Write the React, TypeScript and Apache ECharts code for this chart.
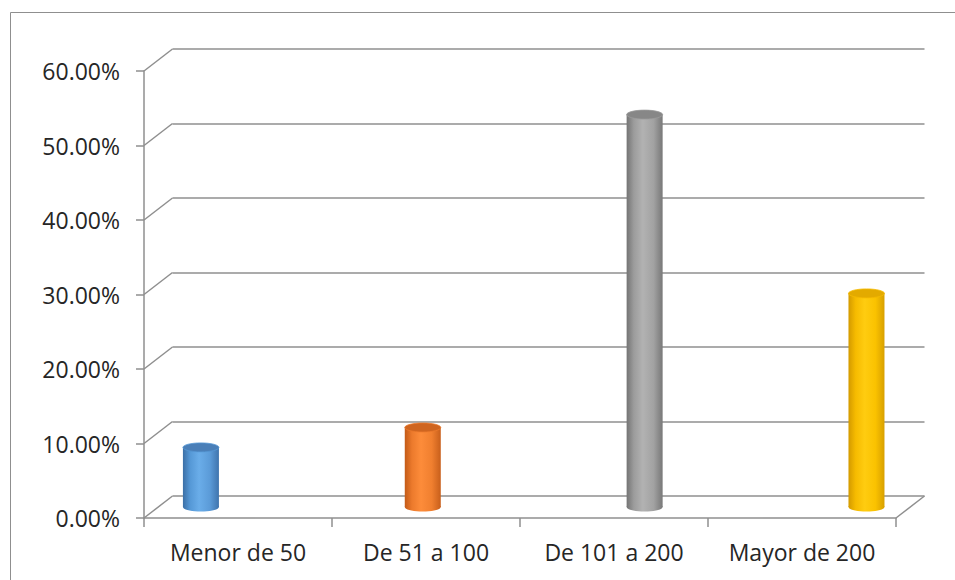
import React, { useEffect, useRef } from 'react';
import * as echarts from 'echarts';

// ---- data ----
const categories = ['Menor de 50', 'De 51 a 100', 'De 101 a 200', 'Mayor de 200'];
const values = [0.08, 0.1067, 0.5267, 0.2867];
const yTicks = [0, 0.1, 0.2, 0.3, 0.4, 0.5, 0.6];
const Y_MIN = 0;
const Y_MAX = 0.6;
const Y_STEP = 0.1;

// ---- styles / layout ----
const W = 955;
const H = 580;
const FRONT = { left: 144, right: 59, top: 71, bottom: 62 };
const DX = 28.5;
const DY = -22;
const LINE = '#8f8f8f';
const TEXT = '#262626';
const FONT = 'Open Sans';
const FONT_SIZE = 23;
const BAR_W = 36;
const ELL_RY = 4.5;
const barStyles = [
  { stops: ['#3b6fa6', '#5598d6', '#6aade9', '#5b9bd8', '#3f74ad'], top: '#4a7fb8' },
  { stops: ['#c35a17', '#ec7a2c', '#fd8c3a', '#f07f2f', '#c85f1b'], top: '#cf6520' },
  { stops: ['#747474', '#9c9c9c', '#b2b2b2', '#a2a2a2', '#787878'], top: '#878787' },
  { stops: ['#d39a00', '#f6bb00', '#ffcc10', '#fac200', '#d8a000'], top: '#e3aa00' },
];

function grad(stops: string[]) {
  return new echarts.graphic.LinearGradient(0, 0, 1, 0, [
    { offset: 0, color: stops[0] },
    { offset: 0.2, color: stops[1] },
    { offset: 0.45, color: stops[2] },
    { offset: 0.75, color: stops[3] },
    { offset: 1, color: stops[4] },
  ]);
}

export default function App() {
  const ref = useRef<HTMLDivElement>(null);
  useEffect(() => {
    if (!ref.current) return;
    const chart = echarts.init(ref.current, undefined, { renderer: 'svg' });
    const back = {
      left: FRONT.left + DX,
      right: FRONT.right - DX,
      top: FRONT.top + DY,
      bottom: FRONT.bottom - DY,
    };
    // bars sit mid-depth, on their own wider band
    const barsGrid = { left: 90, width: 887.4, top: FRONT.top + DY / 2, bottom: FRONT.bottom - DY / 2 };

    const option: any = {
      animation: false,
      backgroundColor: '#ffffff',
      textStyle: { fontFamily: FONT },
      graphic: [
        {
          type: 'rect',
          shape: { x: 10.5, y: 12.5, width: 2000, height: 2000 },
          style: { fill: 'none', stroke: LINE, lineWidth: 1 },
          silent: true,
          z: -10,
        },
      ],
      grid: [
        { ...FRONT, containLabel: false, outerBoundsMode: 'none' },
        { ...back, containLabel: false, outerBoundsMode: 'none' },
        { ...barsGrid, containLabel: false, outerBoundsMode: 'none' },
      ],
      xAxis: [
        {
          gridIndex: 0,
          type: 'category',
          data: categories,
          boundaryGap: true,
          axisLine: { show: true, lineStyle: { color: LINE, width: 1.5 } },
          axisTick: { show: true, interval: 0, length: 9, lineStyle: { color: LINE, width: 1.5 } },
          axisLabel: {
            color: TEXT,
            fontSize: FONT_SIZE,
            fontFamily: FONT,
            margin: 22,
            interval: 0,
            hideOverlap: false,
          },
          splitLine: { show: false },
        },
        {
          gridIndex: 1,
          type: 'category',
          data: categories,
          axisLine: { show: false },
          axisTick: { show: false },
          axisLabel: { show: false },
          splitLine: { show: false },
        },
        {
          gridIndex: 2,
          type: 'category',
          data: categories,
          show: false,
        },
      ],
      yAxis: [
        {
          gridIndex: 0,
          type: 'value',
          min: Y_MIN,
          max: Y_MAX,
          interval: Y_STEP,
          axisLine: { show: true, lineStyle: { color: LINE, width: 1.5 } },
          axisTick: { show: true, length: 8, lineStyle: { color: LINE, width: 1.5 } },
          axisLabel: {
            color: TEXT,
            fontSize: FONT_SIZE,
            fontFamily: FONT,
            margin: 24,
            formatter: (v: number) => (v * 100).toFixed(2) + '%',
          },
          splitLine: { show: false },
        },
        {
          gridIndex: 1,
          type: 'value',
          min: Y_MIN,
          max: Y_MAX,
          interval: Y_STEP,
          axisLine: { show: false },
          axisTick: { show: false },
          axisLabel: { show: false },
          splitLine: { show: true, lineStyle: { color: LINE, width: 1.5 } },
        },
        {
          gridIndex: 2,
          type: 'value',
          min: Y_MIN,
          max: Y_MAX,
          interval: Y_STEP,
          show: false,
        },
      ],
      series: [
        {
          type: 'custom',
          name: 'frame',
          xAxisIndex: 0,
          yAxisIndex: 0,
          silent: true,
          data: yTicks.map((v) => [0, v]),
          renderItem: (params: any, api: any) => {
            const v = api.value(1);
            const p = api.coord([0, v]);
            const cs = params.coordSys;
            const x0 = cs.x;
            const y = p[1];
            const children: any[] = [
              {
                type: 'line',
                shape: { x1: x0, y1: y, x2: x0 + DX, y2: y + DY },
                style: { stroke: LINE, lineWidth: 1.5 },
              },
            ];
            if (v === Y_MIN) {
              const x1 = cs.x + cs.width;
              children.push({
                type: 'line',
                shape: { x1: x1, y1: y, x2: x1 + DX, y2: y + DY },
                style: { stroke: LINE, lineWidth: 1.5 },
              });
            }
            return { type: 'group', children };
          },
          z: 1,
        },
        {
          type: 'custom',
          name: 'bars',
          xAxisIndex: 2,
          yAxisIndex: 2,
          data: values.map((v, i) => [i, v]),
          renderItem: (params: any, api: any) => {
            const i = api.value(0);
            const v = api.value(1);
            const top = api.coord([i, v]);
            const base = api.coord([i, 0]);
            const st = barStyles[params.dataIndex % barStyles.length];
            const cx = top[0];
            const x = cx - BAR_W / 2;
            return {
              type: 'group',
              children: [
                {
                  type: 'ellipse',
                  shape: { cx, cy: base[1], rx: BAR_W / 2, ry: ELL_RY },
                  style: { fill: grad(st.stops) },
                },
                {
                  type: 'rect',
                  shape: { x, y: top[1], width: BAR_W, height: base[1] - top[1] },
                  style: { fill: grad(st.stops) },
                },
                {
                  type: 'ellipse',
                  shape: { cx, cy: top[1], rx: BAR_W / 2, ry: ELL_RY },
                  style: { fill: st.top, stroke: st.stops[1], lineWidth: 0.8 },
                },
              ],
            };
          },
          z: 3,
        },
      ],
    };
    chart.setOption(option);
    return () => chart.dispose();
  }, []);
  return (
    <div
      ref={ref}
      style={{ position: 'fixed', left: 0, top: 0, width: W, height: H }}
    />
  );
}
